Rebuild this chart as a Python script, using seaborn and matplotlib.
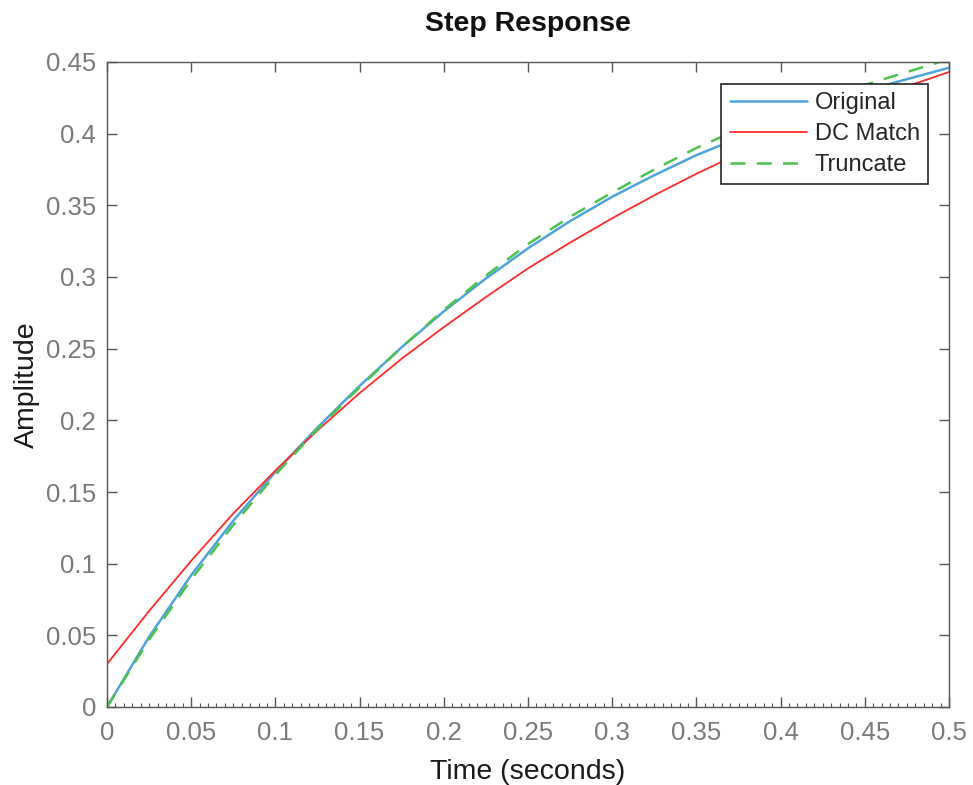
import pandas as pd
import matplotlib
matplotlib.use("Agg")
import matplotlib.pyplot as plt
from matplotlib.ticker import MultipleLocator
import seaborn as sns

# Step response samples (time in seconds)
time_s = [0.0, 0.025, 0.05, 0.075, 0.1, 0.125, 0.15, 0.175, 0.2, 0.225, 0.25,
          0.275, 0.3, 0.325, 0.35, 0.375, 0.4, 0.425, 0.45, 0.475, 0.5]
original = [0.0, 0.049, 0.092, 0.130, 0.164, 0.195, 0.224, 0.251, 0.276, 0.299, 0.320,
            0.339, 0.356, 0.371, 0.385, 0.397, 0.409, 0.420, 0.430, 0.438, 0.446]
dc_match = [0.030, 0.067, 0.102, 0.135, 0.165, 0.193, 0.219, 0.243, 0.265, 0.286, 0.306,
            0.324, 0.341, 0.357, 0.372, 0.386, 0.399, 0.411, 0.422, 0.433, 0.443]
truncate = [0.0, 0.047, 0.089, 0.127, 0.162, 0.194, 0.223, 0.251, 0.277, 0.301, 0.323,
            0.342, 0.359, 0.375, 0.390, 0.403, 0.415, 0.425, 0.434, 0.443, 0.452]

x_ticks = [0, 0.05, 0.1, 0.15, 0.2, 0.25, 0.3, 0.35, 0.4, 0.45, 0.5]
x_tick_labels = ["0", "0.05", "0.1", "0.15", "0.2", "0.25", "0.3", "0.35", "0.4", "0.45", "0.5"]
y_ticks = [0, 0.05, 0.1, 0.15, 0.2, 0.25, 0.3, 0.35, 0.4, 0.45]
y_tick_labels = ["0", "0.05", "0.1", "0.15", "0.2", "0.25", "0.3", "0.35", "0.4", "0.45"]

sns.set_style("ticks")
plt.rcParams["font.family"] = ["Liberation Sans", "DejaVu Sans"]

df = pd.DataFrame({"t": time_s, "Original": original, "DC Match": dc_match, "Truncate": truncate})

fig = plt.figure(figsize=(9.73, 7.85), dpi=100)
ax = fig.add_axes([107 / 973, 78 / 785, 842 / 973, 645 / 785])

sns.lineplot(data=df, x="t", y="Original", ax=ax, color="#4fa3dc", linewidth=1.8, label="Original")
sns.lineplot(data=df, x="t", y="DC Match", ax=ax, color="#ff2b2b", linewidth=1.3, label="DC Match")
sns.lineplot(data=df, x="t", y="Truncate", ax=ax, color="#4cc34c", linewidth=1.8,
             linestyle=(0, (6, 4.5)), label="Truncate")

ax.set_xlim(0, 0.5)
ax.set_ylim(0, 0.45)
ax.set_xticks(x_ticks)
ax.set_xticklabels(x_tick_labels)
ax.set_yticks(y_ticks)
ax.set_yticklabels(y_tick_labels)
ax.xaxis.set_minor_locator(MultipleLocator(0.005))

gray = "#7a7a7a"
ax.tick_params(axis="both", which="major", direction="in", length=7, width=1,
               color="#555555", labelcolor=gray, labelsize=18.5, top=True, right=True, pad=10)
ax.tick_params(axis="y", which="major", pad=8)
ax.tick_params(axis="x", which="minor", direction="in", length=3, width=0.8,
               color="#555555", top=False, bottom=True)
for side in ["top", "right", "bottom", "left"]:
    ax.spines[side].set_visible(True)
    ax.spines[side].set_color("#555555")
    ax.spines[side].set_linewidth(1)

ax.set_xlabel("Time (seconds)", fontsize=20.5, color="#1a1a1a", labelpad=10)
ax.set_ylabel("Amplitude", fontsize=20.5, color="#1a1a1a", labelpad=4)
ax.set_title("Step Response", fontsize=20.5, fontweight="bold", color="#111111", pad=22)

leg = ax.legend(loc="upper right", bbox_to_anchor=(0.975, 0.966), fontsize=17,
                frameon=True, fancybox=False, edgecolor="#262626", framealpha=1,
                handlelength=3.3, borderpad=0.35, labelspacing=0.38, handletextpad=0.3,
                borderaxespad=0)
leg.get_frame().set_linewidth(1.2)

fig.savefig("out.png", dpi=100)
plt.close(fig)
